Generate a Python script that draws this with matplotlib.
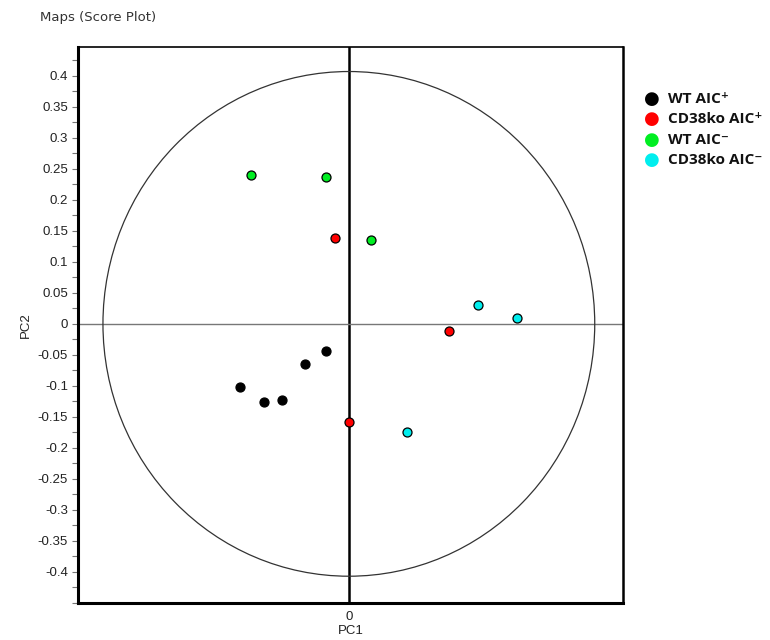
import numpy as np
import matplotlib.pyplot as plt
from matplotlib.patches import Ellipse
from matplotlib.ticker import MultipleLocator, FixedLocator

# PCA scores (PC1, PC2) per group
wt_pos_pc1 = [-0.038, -0.073, -0.182, -0.142, -0.112]
wt_pos_pc2 = [-0.044, -0.065, -0.102, -0.126, -0.123]
ko_pos_pc1 = [-0.023, 0.000, 0.167]
ko_pos_pc2 = [0.139, -0.158, -0.011]
wt_neg_pc1 = [-0.163, -0.038, 0.037]
wt_neg_pc2 = [0.240, 0.237, 0.135]
ko_neg_pc1 = [0.215, 0.280, 0.097]
ko_neg_pc2 = [0.031, 0.010, -0.174]

labels = ['WT AIC\u207a', 'CD38ko AIC\u207a', 'WT AIC\u207b', 'CD38ko AIC\u207b']
colors = ['black', '#ff0000', '#00ee22', '#00eeee']
yticks = [0.4, 0.35, 0.3, 0.25, 0.2, 0.15, 0.1, 0.05, 0, -0.05, -0.1, -0.15,
          -0.2, -0.25, -0.3, -0.35, -0.4]
radius = 0.41

fig = plt.figure(figsize=(7.7, 6.4), dpi=100)
ax = fig.add_axes([0.101, 0.058, 0.708, 0.869])

groups = [(wt_pos_pc1, wt_pos_pc2), (ko_pos_pc1, ko_pos_pc2),
          (wt_neg_pc1, wt_neg_pc2), (ko_neg_pc1, ko_neg_pc2)]

# axis lines through the origin
ax.axvline(0, color='black', lw=1.8, zorder=1)
ax.axhline(0, color='#777777', lw=1.0, zorder=1)

# confidence circle
ax.add_patch(Ellipse((0, 0), 2 * radius, 2 * 0.407, fill=False,
                     edgecolor='#333333', lw=0.9, zorder=1))

for (x, y), c in zip(groups, colors):
    ax.scatter(x, y, s=42, color=c, edgecolors='black', linewidths=0.9,
               marker='o', zorder=3)

ax.set_xlim(-0.452, 0.457)
ax.set_ylim(-0.45, 0.447)

ax.yaxis.set_major_locator(FixedLocator(yticks))
ax.yaxis.set_minor_locator(MultipleLocator(0.025))
ax.set_yticklabels(['0' if v == 0 else f'{v:g}' for v in yticks])
ax.set_xticks([0])
ax.set_xticklabels(['0'])
ax.tick_params(axis='y', which='both', length=4, width=0.8, color='#777777',
               labelsize=9.5, labelcolor='#222222', pad=3)
ax.tick_params(axis='x', length=0, labelsize=9.5, labelcolor='#222222', pad=6)
for t in ax.get_yticklabels() + ax.get_xticklabels():
    t.set_family(['Liberation Sans', 'DejaVu Sans'])

ax.spines['left'].set_linewidth(2.2)
ax.spines['bottom'].set_linewidth(2.2)
ax.spines['right'].set_linewidth(1.8)
ax.spines['top'].set_linewidth(1.2)

ax.set_xlabel('PC1', fontsize=9.5, family=['Liberation Sans', 'DejaVu Sans'],
              color='#222222', labelpad=1)
ax.set_ylabel('PC2', fontsize=9.5, family=['Liberation Sans', 'DejaVu Sans'],
              color='#222222', labelpad=4)

fig.text(0.052, 0.972, 'Maps (Score Plot)', fontsize=9.5, color='#333333',
         family='DejaVu Sans', va='center')

# legend entries on the right
for i, (lab, c) in enumerate(zip(labels, colors)):
    yy = 0.846 - i * 0.032
    fig.text(0.846, yy, '\u25cf', color=c, fontsize=13, ha='center',
             va='center', family='DejaVu Sans')
    fig.text(0.868, yy, lab, fontsize=11, fontweight='bold', va='center',
             family=['Open Sans', 'DejaVu Sans'], color='#111111')

fig.savefig('out.png', dpi=100)
